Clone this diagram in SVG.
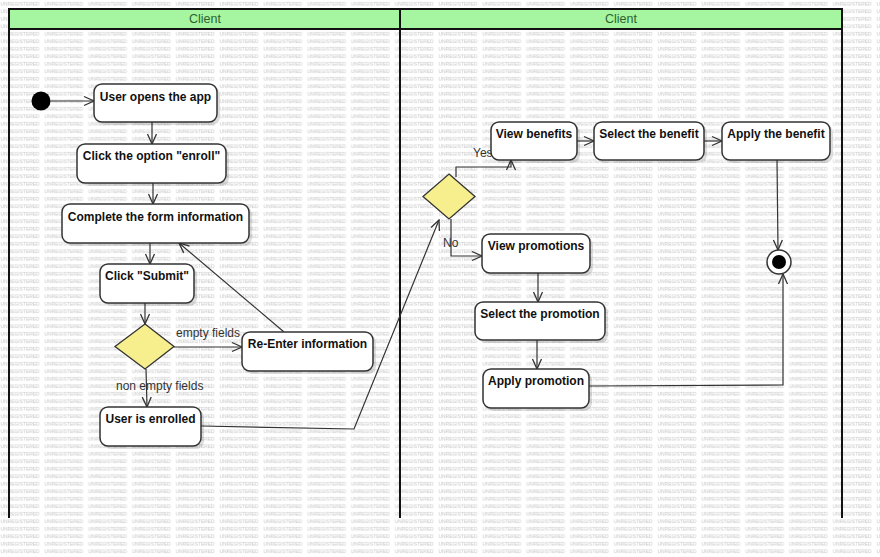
<svg xmlns="http://www.w3.org/2000/svg" width="880" height="557" viewBox="0 0 880 557">
<defs>
<pattern id="wm" patternUnits="userSpaceOnUse" width="43.8" height="7.5">
<rect width="43.8" height="7.5" fill="#ffffff"/>
<text x="0.5" y="6" font-family="Liberation Sans, Arial, sans-serif" font-size="5.2" fill="#c6c6c6" textLength="39" lengthAdjust="spacingAndGlyphs">UNREGISTERED</text>
</pattern>
<marker id="arr" viewBox="0 0 12 12" refX="11" refY="6" markerWidth="12" markerHeight="12" markerUnits="userSpaceOnUse" orient="auto">
<path d="M1,1.5 L11,6 L1,10.5" fill="none" stroke="#333" stroke-width="1.3"/>
</marker>
</defs>
<style>
.node rect.box{fill:#ffffff;stroke:#333;stroke-width:1.5}
.node rect.sh{fill:#000;opacity:0.13}
.node text{font-family:"Liberation Sans",Arial,sans-serif;font-size:12px;font-weight:bold;fill:#111;text-anchor:middle}
.dec{fill:#f7ef8d;stroke:#333;stroke-width:1.3}
#edges path,#edges line{fill:none;stroke:#333;stroke-width:1.2;marker-end:url(#arr)}
.lbl{font-family:"Liberation Sans",Arial,sans-serif;font-size:12px;fill:#333}
.lane{stroke:#111;stroke-width:2;fill:none}
.hdr{font-family:"Liberation Sans",Arial,sans-serif;font-size:12.5px;fill:#2f632f;text-anchor:middle}
</style>
<rect width="880" height="557" fill="url(#wm)"/>
<g id="lanes">
<rect x="9" y="9" width="833" height="20" fill="#a6f5a1" stroke="#111" stroke-width="2"/>
<line class="lane" x1="9" y1="9" x2="9" y2="518"/>
<line class="lane" x1="400" y1="9" x2="400" y2="518"/>
<line class="lane" x1="842" y1="9" x2="842" y2="518"/>
<text class="hdr" x="205" y="23">Client</text>
<text class="hdr" x="621" y="23">Client</text>
</g>
<g id="edges">
<line x1="50.5" y1="101" x2="94" y2="101"/>
<line x1="152" y1="122" x2="152" y2="144"/>
<line x1="153" y1="183" x2="153" y2="204"/>
<line x1="150" y1="243" x2="150" y2="264"/>
<line x1="145" y1="303" x2="145" y2="324"/>
<line x1="174" y1="347" x2="242" y2="347"/>
<line x1="284" y1="332" x2="179" y2="243"/>
<line x1="146" y1="369" x2="147" y2="407"/>
<path d="M201,426 L354,429 L439,220"/>
<path d="M456,177 L456,167 L511,167 L511,160"/>
<line x1="577" y1="141" x2="594" y2="141"/>
<line x1="704" y1="141" x2="722" y2="141"/>
<line x1="777" y1="160" x2="778" y2="250"/>
<path d="M451,219 L451,256 L482,256"/>
<line x1="538" y1="273" x2="538" y2="302"/>
<line x1="537" y1="340" x2="537" y2="369"/>
<path d="M589,386 L783,385 L783,274"/>
<text class="lbl" x="176" y="337">empty fields</text>
<text class="lbl" x="116" y="390">non empty fields</text>
<text class="lbl" x="473" y="157">Yes</text>
<text class="lbl" x="443" y="247">No</text>
</g>
<g id="start"><circle cx="41" cy="101" r="9.5" fill="#000"/></g>
<g id="userOpens" class="node"><rect class="sh" x="97" y="87" width="123" height="38" rx="8"/><rect class="box" x="94" y="84" width="123" height="38" rx="8"/><text x="155.5" y="101">User opens the app</text></g>
<g id="clickEnroll" class="node"><rect class="sh" x="80" y="147" width="149" height="39" rx="8"/><rect class="box" x="77" y="144" width="149" height="39" rx="8"/><text x="151.5" y="160">Click the option "enroll"</text></g>
<g id="complete" class="node"><rect class="sh" x="65" y="207" width="187" height="39" rx="8"/><rect class="box" x="62" y="204" width="187" height="39" rx="8"/><text x="155.5" y="221">Complete the form information</text></g>
<g id="submit" class="node"><rect class="sh" x="103" y="267" width="94" height="39" rx="8"/><rect class="box" x="100" y="264" width="94" height="39" rx="8"/><text x="147" y="280">Click "Submit"</text></g>
<g id="decision1"><polygon class="dec" points="145,324 174,346.5 145,369 115,346.5"/></g>
<g id="reenter" class="node"><rect class="sh" x="245" y="335" width="131" height="39" rx="8"/><rect class="box" x="242" y="332" width="131" height="39" rx="8"/><text x="307.5" y="348">Re-Enter information</text></g>
<g id="enrolled" class="node"><rect class="sh" x="103" y="410" width="101" height="39" rx="8"/><rect class="box" x="100" y="407" width="101" height="39" rx="8"/><text x="150.5" y="423">User is enrolled</text></g>
<g id="decision2"><polygon class="dec" points="449,174 475,196.5 449,219 423,196.5"/></g>
<g id="viewBenefits" class="node"><rect class="sh" x="494" y="125" width="86" height="38" rx="8"/><rect class="box" x="491" y="122" width="86" height="38" rx="8"/><text x="534" y="138">View benefits</text></g>
<g id="selectBenefit" class="node"><rect class="sh" x="597" y="125" width="110" height="38" rx="8"/><rect class="box" x="594" y="122" width="110" height="38" rx="8"/><text x="649" y="138">Select the benefit</text></g>
<g id="applyBenefit" class="node"><rect class="sh" x="725" y="125" width="108" height="38" rx="8"/><rect class="box" x="722" y="122" width="108" height="38" rx="8"/><text x="776" y="138">Apply the benefit</text></g>
<g id="viewPromos" class="node"><rect class="sh" x="485" y="237" width="108" height="39" rx="8"/><rect class="box" x="482" y="234" width="108" height="39" rx="8"/><text x="536" y="250">View promotions</text></g>
<g id="selectPromo" class="node"><rect class="sh" x="478" y="305" width="130" height="38" rx="8"/><rect class="box" x="475" y="302" width="130" height="38" rx="8"/><text x="540" y="318">Select the promotion</text></g>
<g id="applyPromo" class="node"><rect class="sh" x="486" y="372" width="106" height="39" rx="8"/><rect class="box" x="483" y="369" width="106" height="39" rx="8"/><text x="536" y="385">Apply promotion</text></g>
<g id="end"><circle cx="779" cy="262" r="12" fill="#fff" stroke="#333" stroke-width="1.5"/><circle cx="779" cy="262" r="7" fill="#000"/></g>
</svg>
